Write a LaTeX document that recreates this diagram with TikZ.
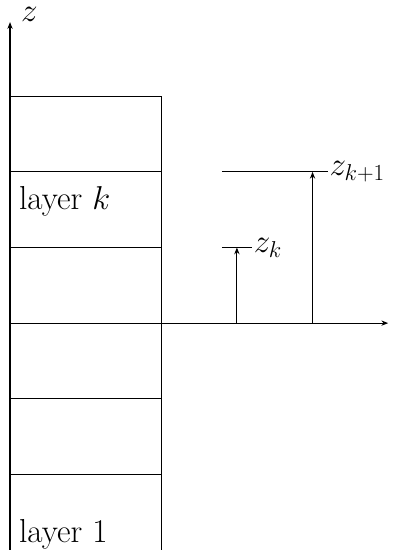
\documentclass[tikz,border=0pt]{standalone}
\usetikzlibrary{arrows.meta}
\tikzset{axis/.style={-{Stealth[length=1.8mm,width=1.4mm]}, line width=.8pt}, layerline/.style={line width=.8pt}, lab/.style={font=\fontsize{25}{30}\selectfont, inner sep=1pt}}
\begin{document}
\begin{tikzpicture}
\useasboundingbox (-0.265,-6) rectangle (10.16,8.545);
\coordinate (zbot) at (0,-6); \coordinate (ztop) at (0,7.96);
\coordinate (xl) at (4,0); \coordinate (xr) at (10,0);
% layer stack
\draw[layerline] (0,6) -- (4,6) -- (4,-6);
\foreach \y in {-4,-2,0,2,4} \draw[layerline] (0,\y) -- (4,\y);
\draw[axis] (zbot) -- (ztop);
\node[lab, anchor=base west] (zlab) at (0.25,7.97) {$z$};
\draw[axis] (xl) -- (xr);
\node[lab, anchor=base west] (lk) at (0.2,3) {layer $k$};
\node[lab, anchor=base west] (l1) at (0.2,-5.8) {layer 1};
% interface heights
\coordinate (k0) at (6,0); \coordinate (k) at (6,2);
\coordinate (kk0) at (8,0); \coordinate (kk) at (8,4);
\draw[layerline] (5.6,2) -- (6.4,2) node[lab, right] (zk) {$z_k$};
\draw[layerline] (5.6,4) -- (8.4,4) node[lab, right] (zkk) {$z_{k+1}$};
\draw[axis] (k0) -- (k);
\draw[axis] (kk0) -- (kk);
\end{tikzpicture}
\end{document}
